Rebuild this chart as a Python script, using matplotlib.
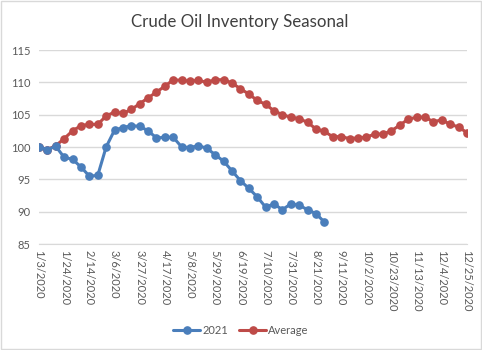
import matplotlib
matplotlib.use("Agg")
import matplotlib.pyplot as plt
from matplotlib.patches import Rectangle
import numpy as np
import pandas as pd

plt.rcParams['font.family'] = ['Lato', 'DejaVu Sans']

dates = pd.date_range("2020-01-03", periods=52, freq="7D")
date_labels = [f"{d.month}/{d.day}/{d.year}" for d in dates]

series_2021 = [100.0, 99.6, 100.1, 98.4, 98.1, 96.9, 95.5, 95.6, 100.0, 102.6,
               103.0, 103.3, 103.2, 102.5, 101.4, 101.5, 101.5, 100.0, 99.9, 100.2,
               99.8, 98.8, 97.8, 96.3, 94.8, 93.6, 92.3, 90.7, 91.2, 90.3,
               91.2, 91.0, 90.3, 89.7, 88.4]
series_avg = [100.0, 99.6, 100.2, 101.3, 102.5, 103.3, 103.5, 103.5, 104.8, 105.4,
              105.2, 105.8, 106.7, 107.6, 108.5, 109.4, 110.4, 110.3, 110.2, 110.3,
              110.0, 110.4, 110.4, 109.9, 109.0, 108.2, 107.2, 106.6, 105.6, 105.0,
              104.6, 104.4, 103.8, 102.8, 102.4, 101.6, 101.6, 101.3, 101.4, 101.5,
              102.0, 102.0, 102.5, 103.4, 104.3, 104.6, 104.6, 103.9, 104.2, 103.5,
              103.1, 102.2]
y_ticks = [85, 90, 95, 100, 105, 110, 115]

blue = "#4A7EBB"
red = "#BE4B48"
gray_text = "#595959"

fig = plt.figure(figsize=(4.82, 3.5), dpi=100)
fig.patches.append(Rectangle((0.002, 0.003), 0.996, 0.994, transform=fig.transFigure,
                             fill=False, edgecolor="#D9D9D9", linewidth=1.0))
ax = fig.add_axes([39/482, 1-244/350, (467-39)/482, (244-50)/350])

x = np.arange(len(dates))
ax.plot(x[:len(series_2021)], series_2021, color=blue, lw=2.2, marker='o', ms=5.2,
        label="2021", zorder=3, solid_capstyle='round')
ax.plot(x[:len(series_avg)], series_avg, color=red, lw=2.2, marker='o', ms=5.2,
        label="Average", zorder=2, solid_capstyle='round')

ax.set_xlim(0, 51)
ax.set_ylim(85, 115)
ax.set_yticks(y_ticks)
ax.set_yticklabels([str(v) for v in y_ticks], color=gray_text, fontsize=8)
ax.grid(axis='y', color="#D9D9D9", linewidth=1.0)
ax.set_axisbelow(True)
for s in ['top', 'right', 'left']:
    ax.spines[s].set_visible(False)
ax.spines['bottom'].set_color("#D9D9D9")
ax.tick_params(axis='y', length=0, pad=6)
ticks = list(range(0, 52, 3))
ax.set_xticks(ticks)
ax.set_xticklabels([date_labels[i] for i in ticks], rotation=270, color=gray_text,
                   fontsize=8, va='top', ha='center')
ax.tick_params(axis='x', length=0, pad=4)

fig.text(240/482, 1-22/350, "Crude Oil Inventory Seasonal", ha='center', va='center',
         fontsize=12.2, color="#404040")

fig.legend(loc='center', bbox_to_anchor=(241/482, 1-330/350), ncol=2, frameon=False,
           fontsize=8, handlelength=2.4, columnspacing=1.0, handletextpad=0.2,
           labelcolor=gray_text)

fig.savefig("out.png", dpi=100)
